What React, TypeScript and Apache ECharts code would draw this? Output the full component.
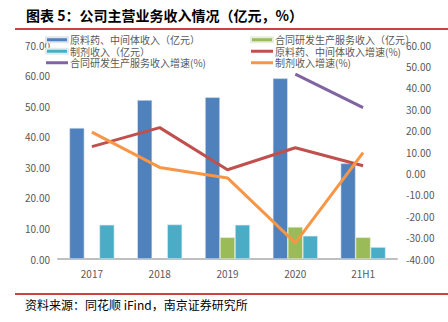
import React, { useEffect, useRef } from "react";
import * as echarts from "echarts";

const categories = ["2017", "2018", "2019", "2020", "21H1"];
const apiRevenue = [42.9, 52.0, 52.9, 59.1, 31.3];
const cdmoRevenue = [null, null, 7.1, 10.5, 7.1];
const formulationRevenue = [11.2, 11.3, 11.2, 7.6, 3.9];
const apiGrowth = [12.5, 21.4, 1.7, 12.0, 3.6];
const cdmoGrowth = [null, null, null, 46.4, 30.7];
const formulationGrowth = [19.3, 2.8, -2.1, -32.5, 9.7];

const names = {
  apiRev: "原料药、中间体收入（亿元）",
  cdmoRev: "合同研发生产服务收入（亿元）",
  formRev: "制剂收入（亿元）",
  apiG: "原料药、中间体收入增速(%)",
  cdmoG: "合同研发生产服务收入增速(%)",
  formG: "制剂收入增速(%)",
};

const FONT = "'Noto Sans CJK SC', 'Noto Sans', sans-serif";
const GRAY = "#595959";
const LINE_ICON = "path://M0 0H22V3H0Z";

export default function App() {
  const ref = useRef<HTMLDivElement>(null);
  useEffect(() => {
    if (!ref.current) return;
    const chart = echarts.init(ref.current, null, { renderer: "svg" });
    const legendCommon = {
      orient: "vertical" as const,
      itemWidth: 22,
      itemHeight: 5,
      itemGap: 0,
      textStyle: { color: GRAY, fontSize: 10, lineHeight: 11.5, fontFamily: FONT, padding: [0, 0, 0, -3] },
      padding: 0,
    };
    chart.setOption({
      animation: false,
      textStyle: { fontFamily: FONT },
      title: {
        text: "图表 5：公司主营业务收入情况（亿元，%）",
        left: 21,
        top: 3,
        textStyle: { fontSize: 14, fontWeight: "bold", color: "#000", fontFamily: FONT },
      },
      legend: [
        {
          ...legendCommon,
          left: 45,
          top: 34,
          data: [
            { name: names.apiRev, icon: "rect" },
            { name: names.formRev, icon: "rect" },
            { name: names.cdmoG, icon: LINE_ICON },
          ],
        },
        {
          ...legendCommon,
          left: 250,
          top: 34,
          data: [
            { name: names.cdmoRev, icon: "rect" },
            { name: names.apiG, icon: LINE_ICON },
            { name: names.formG, icon: LINE_ICON },
          ],
        },
      ],
      grid: { left: 58, right: 51, top: 45, bottom: 63 },
      xAxis: {
        type: "category",
        data: categories,
        axisLine: { lineStyle: { color: "#bfbfbf", width: 2 } },
        axisTick: { show: false },
        axisLabel: { color: GRAY, fontSize: 10, margin: 9 },
      },
      yAxis: [
        {
          type: "value",
          min: 0,
          max: 70,
          interval: 10,
          splitLine: { show: false },
          axisLine: { show: false },
          axisTick: { show: false },
          axisLabel: { color: GRAY, fontSize: 10, margin: 8, formatter: (v: number) => v.toFixed(2) },
        },
        {
          type: "value",
          min: -40,
          max: 60,
          interval: 10,
          splitLine: { show: false },
          axisLine: { show: false },
          axisTick: { show: false },
          axisLabel: { color: GRAY, fontSize: 10, margin: 9, formatter: (v: number) => v.toFixed(2) },
        },
      ],
      series: [
        {
          name: names.apiRev,
          type: "bar",
          data: apiRevenue,
          barWidth: 15,
          barGap: "0%",
          itemStyle: { color: "#4f81bd", borderColor: "#dfe6ef", borderWidth: 0.6 },
        },
        {
          name: names.cdmoRev,
          type: "bar",
          data: cdmoRevenue,
          barWidth: 15,
          barGap: "0%",
          itemStyle: { color: "#9bbb59", borderColor: "#e6eedb", borderWidth: 0.6 },
        },
        {
          name: names.formRev,
          type: "bar",
          data: formulationRevenue,
          barWidth: 15,
          barGap: "0%",
          itemStyle: { color: "#4bacc6", borderColor: "#dbedf2", borderWidth: 0.6 },
        },
        {
          name: names.apiG,
          type: "line",
          yAxisIndex: 1,
          data: apiGrowth,
          symbol: "none",
          lineStyle: { color: "#c0504d", width: 3 },
          itemStyle: { color: "#c0504d" },
        },
        {
          name: names.cdmoG,
          type: "line",
          yAxisIndex: 1,
          data: cdmoGrowth,
          symbol: "none",
          lineStyle: { color: "#8064a2", width: 3 },
          itemStyle: { color: "#8064a2" },
        },
        {
          name: names.formG,
          type: "line",
          yAxisIndex: 1,
          data: formulationGrowth,
          symbol: "none",
          lineStyle: { color: "#f79646", width: 3 },
          itemStyle: { color: "#f79646" },
        },
      ],
      graphic: [
        {
          type: "line",
          shape: { x1: 15, y1: 29, x2: 448, y2: 29 },
          style: { stroke: "#c00000", lineWidth: 1.5 },
        },
        {
          type: "line",
          shape: { x1: 15, y1: 294, x2: 448, y2: 294 },
          style: { stroke: "#c00000", lineWidth: 1.5 },
        },
        {
          type: "text",
          left: 25,
          top: 298,
          style: {
            text: "资料来源：同花顺 iFind，南京证券研究所",
            fontSize: 12,
            fill: "#000",
            fontFamily: FONT,
          },
        },
      ],
    });
    return () => chart.dispose();
  }, []);
  return (
    <div
      ref={ref}
      style={{ position: "absolute", left: 0, top: 0, width: 448, height: 322 }}
    />
  );
}
